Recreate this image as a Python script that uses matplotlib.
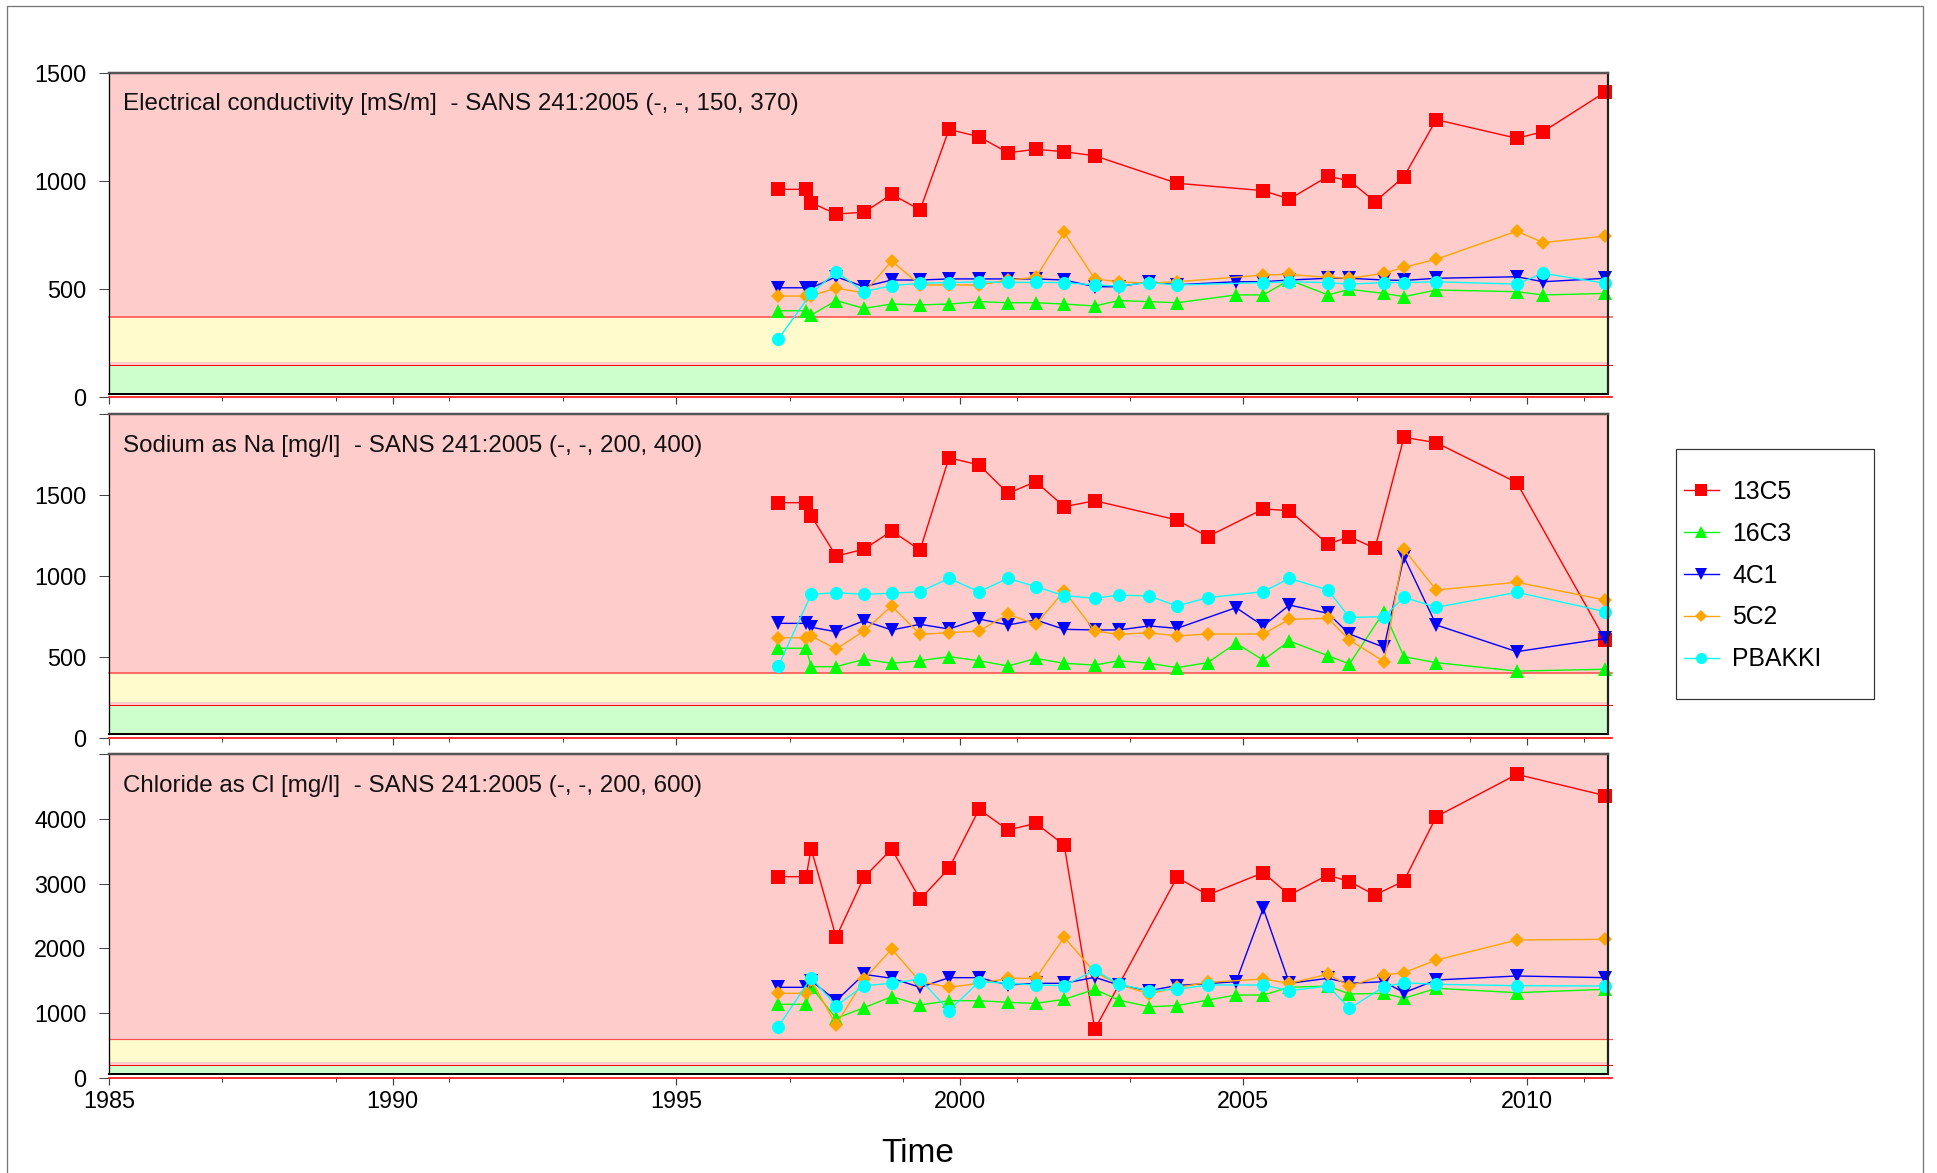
import matplotlib
matplotlib.use('Agg')
import matplotlib.pyplot as plt
from matplotlib.patches import Rectangle

plt.rcParams['font.family'] = ['Liberation Sans', 'DejaVu Sans']

# ---------------- data ----------------
DATES = [1996.80, 1997.29, 1997.38, 1997.82, 1998.31, 1998.80, 1999.30, 1999.81,
         2000.34, 2000.85, 2001.34, 2001.84, 2002.38, 2002.80, 2003.34, 2003.83,
         2004.37, 2004.87, 2005.35, 2005.81, 2006.49, 2006.87, 2007.32, 2007.48,
         2007.83, 2008.40, 2009.82, 2010.28, 2011.38]

SERIES = ['13C5', '16C3', '4C1', '5C2', 'PBAKKI']
COLORS = ['#FF0000', '#00FF00', '#0000FF', '#FFA500', '#00FFFF']
MARKERS = ['s', '^', 'v', 'D', 'o']
MSIZES = [10.2, 10.5, 10.5, 7.3, 9.4]

N = None
ec_13c5 = [961, 961, 899, 847, 855, 938, 866, 1238, 1204, 1130, 1146, 1135, 1116, N, N, 989, N, N, 955, 916, 1021, 1001, 904, N, 1019, 1283, 1197, 1227, 1411]
ec_16c3 = [400, 400, 380, 447, 411, 431, 427, 431, 442, 437, 437, 431, 422, 447, 442, 437, N, 473, 473, 542, 473, 499, N, 480, 465, 496, 488, 473, 480]
ec_4c1 = [506, 506, 506, 557, 511, 542, 542, 547, 547, 547, 547, 542, 511, 511, 534, 520, N, 534, 534, 542, 550, 550, N, 542, 540, 550, 557, 534, 550]
ec_5c2 = [468, 468, 470, 504, 483, 630, 519, 519, 519, 542, 554, 762, 547, 534, 527, 534, N, N, 565, 568, 554, 550, N, 573, 601, 638, 768, 715, 745]
ec_pbakki = [269, N, 480, 580, 488, 516, 527, 530, 534, 531, 531, 530, 519, 514, 530, 519, N, N, 530, 534, 530, 523, N, 530, 530, 534, 523, 573, 527]

na_13c5 = [1453, 1453, 1371, 1123, 1165, 1278, 1160, 1731, 1686, 1511, 1583, 1428, 1465, N, N, 1346, 1243, N, 1414, 1404, 1196, 1243, 1171, N, 1857, 1824, 1577, N, 604]
na_16c3 = [553, 553, 439, 439, 485, 460, 476, 501, 476, 443, 490, 460, 449, 476, 460, 433, 464, 584, 480, 598, 507, 456, N, 779, 501, 464, 412, N, 423]
na_4c1 = [707, 707, 683, 655, 723, 666, 701, 672, 734, 697, 728, 670, 666, 666, 691, 676, N, 804, 691, 820, 769, 641, N, 559, 1119, 697, 532, N, 614]
na_5c2 = [618, 618, 629, 548, 660, 814, 639, 649, 660, 763, 701, 907, 660, 639, 649, 629, 641, N, 641, 732, 738, 604, N, 470, 1165, 913, 961, N, 851]
na_pbakki = [443, N, 886, 897, 886, 893, 903, 985, 903, 985, 934, 878, 862, 882, 876, 814, 866, N, 903, 985, 913, 744, N, 748, 868, 806, 899, N, 779]

cl_13c5 = [3107, 3107, 3535, 2170, 3097, 3535, 2757, 3236, 4148, 3828, 3932, 3597, 748, N, N, 3097, 2824, N, 3169, 2824, 3133, 3030, 2824, N, 3040, 4034, 4689, N, 4359]
cl_16c3 = [1134, 1134, 1400, 918, 1082, 1252, 1124, 1190, 1190, 1165, 1149, 1211, 1366, 1200, 1097, 1115, 1200, 1278, 1278, 1397, 1417, 1294, N, 1304, 1227, 1382, 1314, N, 1366]
cl_4c1 = [1397, 1397, 1499, 1190, 1598, 1536, 1397, 1546, 1546, 1433, 1459, 1459, 1552, 1433, 1345, 1425, N, 1484, 2618, 1459, 1536, 1459, N, 1484, 1314, 1510, 1572, N, 1546]
cl_5c2 = [1304, 1304, 1510, 815, 1520, 1989, 1484, 1397, 1459, 1536, 1536, 2170, 1629, 1444, 1294, 1395, 1474, N, 1525, 1459, 1598, 1417, N, 1587, 1623, 1819, 2128, N, 2139]
cl_pbakki = [788, N, 1546, 1113, 1422, 1460, 1525, 1036, 1484, 1459, 1433, 1422, 1665, 1444, 1345, 1366, 1433, N, 1433, 1345, 1417, 1072, N, 1406, 1468, 1444, 1422, N, 1417]

TITLES = ['Electrical conductivity [mS/m]  - SANS 241:2005 (-, -, 150, 370)',
          'Sodium as Na [mg/l]  - SANS 241:2005 (-, -, 200, 400)',
          'Chloride as Cl [mg/l]  - SANS 241:2005 (-, -, 200, 600)']
YMAX = [1500, 2000, 5000]
YTICKS = [[0, 500, 1000, 1500], [0, 500, 1000, 1500, 2000], [0, 1000, 2000, 3000, 4000, 5000]]
YLABELS = [['0', '500', '1000', '1500'], ['0', '500', '1000', '1500', ''],
           ['0', '1000', '2000', '3000', '4000', '']]
LIMITS = [(150, 370), (200, 400), (200, 600)]
PANEL_DATA = [[ec_13c5, ec_16c3, ec_4c1, ec_5c2, ec_pbakki],
              [na_13c5, na_16c3, na_4c1, na_5c2, na_pbakki],
              [cl_13c5, cl_16c3, cl_4c1, cl_5c2, cl_pbakki]]
XMAJOR = [1985, 1990, 1995, 2000, 2005, 2010]
XMINOR = [1987, 1989, 1991, 1993, 1997, 1999, 2001, 2003, 2007, 2009, 2011]

# ---------------- layout ----------------
W, H = 1937, 1173
fig = plt.figure(figsize=(W / 100, H / 100), dpi=100)
PX = 0.72  # points per pixel

def fx(p):
    return p / W

def fy(p):
    return 1 - p / H

LEFT, RIGHT = 108.5, 1607.5
PANEL_PIX = [(72.7, 397.3), (414.2, 737.7), (754.2, 1077.7)]
X0 = 1985 - (109 - LEFT) / 56.72
X1 = 1985 + (RIGHT - 109) / 56.72

PINK, YELLOW, GREEN = '#FFCCCC', '#FFFBCC', '#CCFFCC'

handles = []
for k in range(3):
    top_px, bot_px = PANEL_PIX[k]
    hpx = bot_px - top_px
    ax = fig.add_axes([fx(LEFT), fy(bot_px), fx(RIGHT) - fx(LEFT), hpx / H])
    ymax = YMAX[k]
    upp = ymax / hpx  # data units per pixel
    off = 3.3 * upp
    ax.set_xlim(X0, X1)
    ax.set_ylim(0, ymax)
    ax.set_facecolor('white')
    lo, hi = LIMITS[k]
    # background bands
    ax.axhspan(off, ymax, color=PINK, lw=0, zorder=0)
    ax.axhspan(lo + 3 * upp, hi, xmin=0.001, color=YELLOW, lw=0, zorder=0.1)
    ax.axhspan(off, lo, xmin=0.001, color=GREEN, lw=0, zorder=0.1)
    ax.plot([0, 1.003], [hi, hi], transform=ax.get_yaxis_transform(), color='#FF5050',
            lw=1.6 * PX if k < 2 else 1.2 * PX, clip_on=False, zorder=0.5)
    ax.plot([0, 1.003], [lo, lo], transform=ax.get_yaxis_transform(), color='#FF0000',
            lw=1.0 * PX, clip_on=False, zorder=0.5)
    # frame bottom (slightly above zero) and red zero line
    ax.plot([0, 1], [off, off], transform=ax.get_yaxis_transform(), color='black',
            lw=2 * PX, clip_on=False, zorder=3)
    ax.plot([0, 1.003], [0, 0], transform=ax.get_yaxis_transform(), color='#FF2020',
            lw=1.8 * PX, clip_on=False, zorder=3)

    for s, vals in enumerate(PANEL_DATA[k]):
        xs = [d for d, v in zip(DATES, vals) if v is not None]
        ys = [v for v in vals if v is not None]
        ln, = ax.plot(xs, ys, color=COLORS[s], lw=1.0, marker=MARKERS[s],
                      markersize=MSIZES[s], markeredgewidth=0, label=SERIES[s],
                      zorder=4 + s, clip_on=False)
        if k == 0:
            handles.append(ln)

    ax.text(0.0095, 1 - 20.5 / hpx, TITLES[k], transform=ax.transAxes, ha='left',
            va='top', fontsize=17.4, color='#111111', zorder=20)

    # spines
    ax.spines['bottom'].set_visible(False)
    ax.spines['left'].set_bounds(off, ymax)
    ax.spines['right'].set_bounds(off, ymax)
    ax.spines['left'].set_color('black')
    ax.spines['left'].set_linewidth(1.3 * PX)
    ax.spines['right'].set_color('#222222')
    ax.spines['right'].set_linewidth(2.2 * PX)
    ax.spines['top'].set_color('#555555')
    ax.spines['top'].set_linewidth(2.5 * PX)
    for sp in ax.spines.values():
        sp.set_zorder(15)

    ax.set_yticks(YTICKS[k])
    ax.set_yticklabels(YLABELS[k])
    ax.set_xticks(XMAJOR)
    ax.set_xticks(XMINOR, minor=True)
    ax.tick_params(axis='y', which='major', direction='out', length=10 * PX,
                   width=1.0 * PX, color='#444444', pad=8.6, labelsize=16.8)
    ax.tick_params(axis='x', which='major', direction='out', length=6.5 * PX,
                   width=1.2 * PX, color='#444444', pad=4.0, labelsize=16.8)
    ax.tick_params(axis='x', which='minor', direction='out', length=3.5 * PX,
                   width=1.0 * PX, color='#444444')
    ax.tick_params(axis='y', which='minor', left=False)
    if k < 2:
        ax.tick_params(axis='x', which='major', labelbottom=False)

# legend with its own frame
fig.patches.append(Rectangle((fx(1676), fy(699)), fx(1874) - fx(1676), (699 - 449) / H,
                             transform=fig.transFigure, fill=False,
                             edgecolor='#333333', lw=1.2 * PX, zorder=1))
fig.legend(handles=handles, loc='upper left', bbox_to_anchor=(fx(1684), fy(480)),
           frameon=False, fontsize=17.8, borderpad=0, borderaxespad=0,
           handlelength=1.4, handletextpad=0.55, labelspacing=0.72, markerscale=0.85)

# axis title
fig.text(fx(918), fy(1154), 'Time', ha='center', va='center', fontsize=24)

# outer border
fig.patches.append(Rectangle((fx(7), -0.01), fx(1923) - fx(7), fy(6) + 0.01,
                             transform=fig.transFigure, fill=False,
                             edgecolor='#777777', lw=1.3 * PX))

fig.savefig('out.png', dpi=100)
